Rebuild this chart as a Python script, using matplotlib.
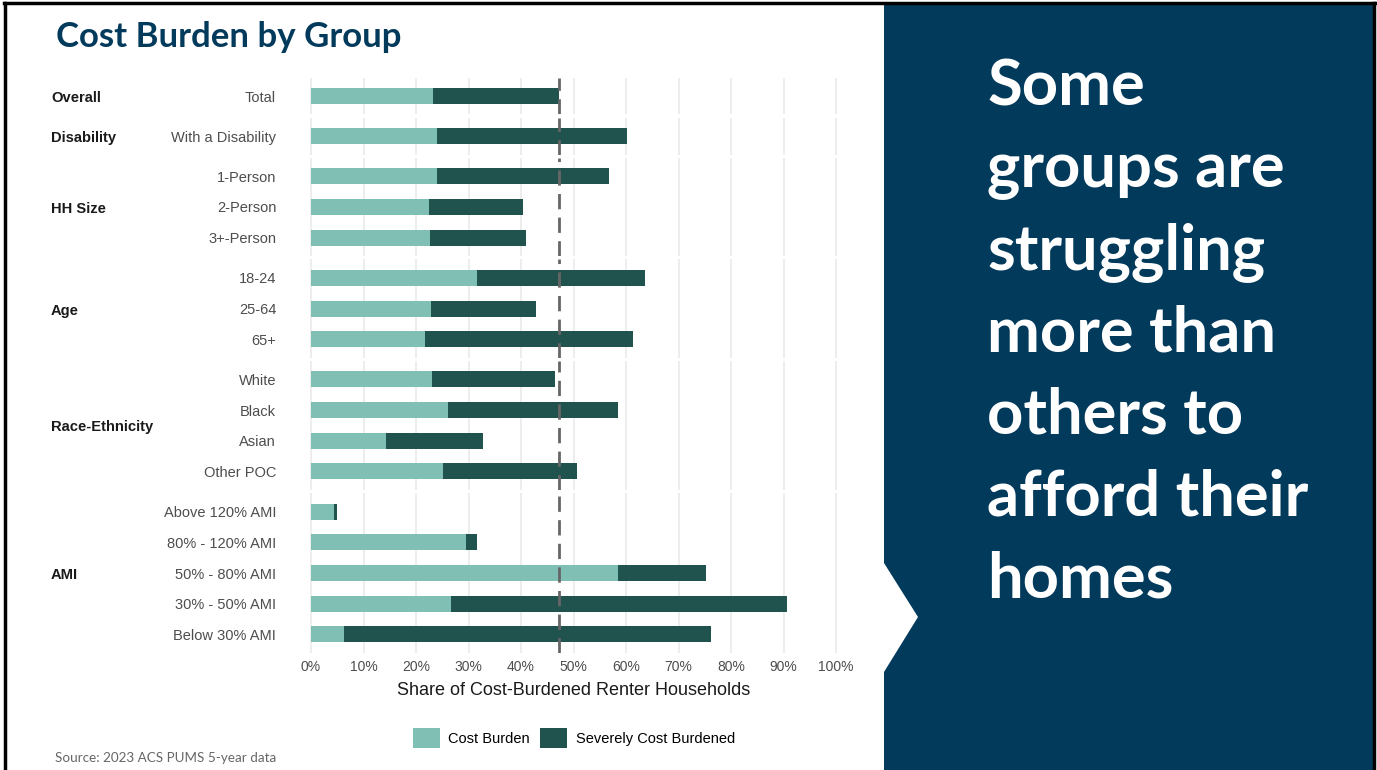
import numpy as np
import matplotlib
matplotlib.use("Agg")
import matplotlib.pyplot as plt
from matplotlib.patches import Polygon, Patch
from matplotlib.lines import Line2D

# data (shares of renter households, %)
groups = ["Overall", "Disability", "HH Size", "Age", "Race-Ethnicity", "AMI"]
labels = [
    ["Total"],
    ["With a Disability"],
    ["1-Person", "2-Person", "3+-Person"],
    ["18-24", "25-64", "65+"],
    ["White", "Black", "Asian", "Other POC"],
    ["Above 120% AMI", "80% - 120% AMI", "50% - 80% AMI", "30% - 50% AMI", "Below 30% AMI"],
]
cost_burden = [
    [23.3],
    [24.0],
    [24.0, 22.5, 22.6],
    [31.6, 22.8, 21.8],
    [23.1, 26.0, 14.3, 25.1],
    [4.4, 29.5, 58.4, 26.7, 6.3],
]
severe = [
    [23.9],
    [36.1],
    [32.7, 17.9, 18.3],
    [32.1, 20.0, 39.6],
    [23.4, 32.5, 18.4, 25.5],
    [0.6, 2.1, 16.8, 64.0, 69.9],
]
xticks = np.arange(0, 101, 10)

light = "#7fbfb4"
dark = "#20534e"
navy = "#023a5c"
overall = cost_burden[0][0] + severe[0][0]

W, H = 1377, 770
fig = plt.figure(figsize=(W / 100, H / 100), dpi=100)


def fx(px):
    return px / W


def fy(py):
    return 1 - py / H


# right navy panel with chevron notch
pts = [(884, 4), (1374, 4), (1374, 770), (884, 770), (884, 672), (918, 617), (884, 563)]
fig.patches.append(Polygon([(fx(a), fy(b)) for a, b in pts], closed=True,
                           facecolor=navy, edgecolor="none", transform=fig.transFigure))
# frame
for xs, ys in [((4, 1375), (3, 3)), ((5, 5), (3, 770)), ((1374, 1374), (3, 770))]:
    fig.add_artist(Line2D([fx(x) for x in xs], [fy(y) for y in ys], color="black",
                          lw=2.5, transform=fig.transFigure))

# facet panels
unit, gap, top = 30.7, 3.3, 77.6
left_px, right_px = 300.5, 846.5
y = top
for g, (grp, labs, cb, sv) in enumerate(zip(groups, labels, cost_burden, severe)):
    n = len(labs)
    h = (n + 0.2) * unit
    ax = fig.add_axes([fx(left_px), fy(y + h), fx(right_px) - fx(left_px), h / H])
    pos = np.arange(n)
    ax.barh(pos, cb, height=0.52, color=light, zorder=2)
    ax.barh(pos, sv, left=cb, height=0.52, color=dark, zorder=2)
    ax.axvline(overall, color="#666666", lw=2.0, ls=(0, (5.5, 3)), zorder=3)
    ax.set_xlim(-2, 102)
    ax.set_ylim(n - 1 + 0.6, -0.6)
    ax.set_xticks(xticks)
    ax.grid(axis="x", color="#e8e8e8", lw=1.1, zorder=0)
    ax.set_yticks(pos)
    ax.set_yticklabels(labs, fontsize=10.5, color="#4d4d4d", family="Liberation Sans")
    ax.tick_params(length=0, pad=17.5)
    for s in ax.spines.values():
        s.set_visible(False)
    if g < len(groups) - 1:
        ax.set_xticklabels([])
    else:
        ax.set_xticklabels([f"{t}%" for t in xticks], fontsize=10, color="#4d4d4d",
                           family="Liberation Sans")
        ax.tick_params(axis="x", pad=5)
        ax.set_xlabel("Share of Cost-Burdened Renter Households", fontsize=13,
                      color="#1a1a1a", family="Liberation Sans", labelpad=6)
    fig.text(fx(51), fy(y + h / 2 + 2), grp, fontsize=10.6, fontweight="bold", color="#1a1a1a",
             family="Liberation Sans", ha="left", va="center")
    y += h + gap

# legend
handles = [Patch(facecolor=light, label="Cost Burden"),
           Patch(facecolor=dark, label="Severely Cost Burdened")]
fig.legend(handles=handles, loc="center", bbox_to_anchor=(fx(574), fy(738)), ncol=2,
           frameon=False, prop={"family": "Liberation Sans", "size": 10.5},
           handlelength=1.85, handleheight=1.7, handletextpad=0.6, columnspacing=0.7)

# titles and notes
fig.text(fx(56), fy(37), "Cost Burden by Group", fontsize=25, fontweight="bold",
         color=navy, family="Lato", ha="left", va="center")
fig.text(fx(55), fy(758), "Source: 2023 ACS PUMS 5-year data", fontsize=9.7,
         color="#666666", family="Lato", ha="left", va="center")

lines = ["Some", "groups are", "struggling", "more than", "others to", "afford their", "homes"]
for i, line in enumerate(lines):
    fig.text(fx(987), fy(105 + 82 * i), line, fontsize=45.5, fontweight="bold",
             color="white", family="Lato", ha="left", va="baseline")

fig.savefig("out.png", dpi=100)
